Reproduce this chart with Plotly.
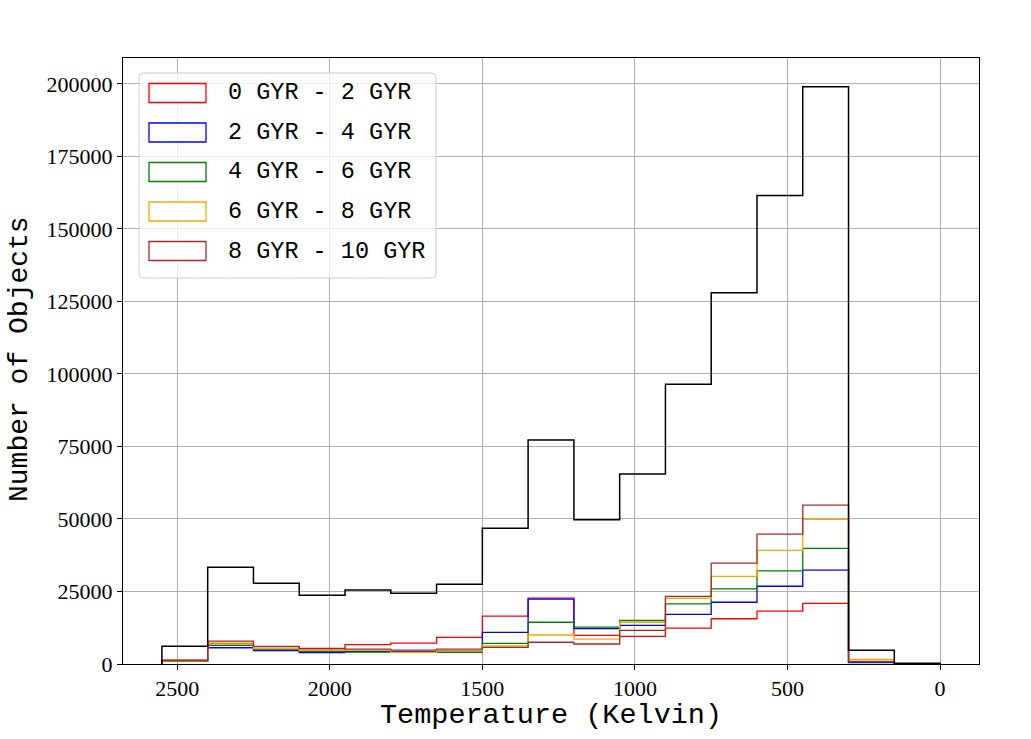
import plotly.graph_objects as go

# bin edges (Kelvin), hottest bin first
edges = [2550, 2400, 2250, 2100, 1950, 1800, 1650, 1500, 1350,
         1200, 1050, 900, 750, 600, 450, 300, 150, 0]

# counts per bin
total = [6100, 33400, 27800, 23700, 25500, 24400, 27500, 46800, 77200,
         49700, 65500, 96500, 128000, 161500, 199000, 4700, 250]
age_0_2 = [1200, 7000, 6000, 5400, 6700, 7200, 9200, 16500, 22700,
           9900, 9500, 12400, 15600, 18200, 20900, 600, 50]
age_2_4 = [1000, 5600, 4600, 3900, 4300, 4300, 4500, 10900, 22400,
           12200, 13300, 17100, 21300, 26800, 32400, 500, 40]
age_4_6 = [1000, 6400, 5100, 4400, 4100, 4000, 4000, 7100, 14400,
           12700, 15000, 20700, 25900, 32100, 39900, 700, 50]
age_6_8 = [1100, 7200, 5400, 4700, 4700, 4000, 4500, 6200, 10000,
           8600, 14400, 22600, 30200, 39200, 49900, 1600, 60]
age_8_10 = [1300, 7900, 6100, 5200, 5100, 4800, 5100, 5700, 7500,
            6900, 11600, 23300, 34800, 44800, 54800, 900, 50]

labels = ["0 GYR - 2 GYR", "2 GYR - 4 GYR", "4 GYR - 6 GYR",
          "6 GYR - 8 GYR", "8 GYR - 10 GYR"]
colors = ["red", "blue", "green", "orange", "brown"]
series = [age_0_2, age_2_4, age_4_6, age_6_8, age_8_10]

W, H = 1031, 739
L, R, T, B = 123, 979, 58, 664   # plot area in pixels


def px(x, y):
    # pixel -> paper coords
    return (x - L) / (R - L), (B - y) / (B - T)


def step(counts):
    # matplotlib 'step' histogram outline
    xs = [edges[0]] + edges
    ys = [0] + counts + [0]
    return xs, ys


fig = go.Figure()
for cnt, col, lab in zip(series, colors, labels):
    xs, ys = step(cnt)
    fig.add_trace(go.Scatter(x=xs, y=ys, mode="lines", line_shape="hv",
                             line=dict(color=col, width=1.3), name=lab,
                             showlegend=False))
xs, ys = step(total)
fig.add_trace(go.Scatter(x=xs, y=ys, mode="lines", line_shape="hv",
                         line=dict(color="black", width=1.5), name="total",
                         showlegend=False))

tickfont = dict(family="Liberation Serif", size=22, color="black")
fig.update_xaxes(range=[2677.5, -127.5], tickvals=[2500, 2000, 1500, 1000, 500, 0],
                 showgrid=True, gridcolor="#b0b0b0", gridwidth=1,
                 showline=True, linecolor="black", linewidth=1, mirror=True,
                 ticks="outside", ticklen=5, tickcolor="black",
                 tickfont=tickfont, zeroline=False)
fig.update_yaxes(range=[0, 208950], tickvals=list(range(0, 200001, 25000)),
                 tickformat="d",
                 showgrid=True, gridcolor="#b0b0b0", gridwidth=1,
                 showline=True, linecolor="black", linewidth=1, mirror=True,
                 ticks="outside", ticklen=5, tickcolor="black",
                 tickfont=tickfont, zeroline=False)

# legend drawn by hand so the keys are rectangles like matplotlib's
shapes = []
annots = []
bx0, by0, bx1, by1 = 139, 73, 436, 278
rr = 4
a = px
path = "M {} {} L {} {} Q {} {} {} {} L {} {} Q {} {} {} {} L {} {} Q {} {} {} {} L {} {} Q {} {} {} {} Z".format(
    *a(bx0 + rr, by0), *a(bx1 - rr, by0), *a(bx1, by0), *a(bx1, by0 + rr),
    *a(bx1, by1 - rr), *a(bx1, by1), *a(bx1 - rr, by1),
    *a(bx0 + rr, by1), *a(bx0, by1), *a(bx0, by1 - rr),
    *a(bx0, by0 + rr), *a(bx0, by0), *a(bx0 + rr, by0))
shapes.append(dict(type="path", path=path, xref="paper", yref="paper",
                   fillcolor="rgba(255,255,255,0.8)",
                   line=dict(color="#cccccc", width=1), layer="above"))
for i, (lab, col) in enumerate(zip(labels, colors)):
    cy = 93 + i * 39.5
    x0, y0 = px(149, cy - 9.5)
    x1, y1 = px(206, cy + 9.5)
    shapes.append(dict(type="rect", xref="paper", yref="paper",
                       x0=x0, x1=x1, y0=y0, y1=y1, fillcolor="white",
                       line=dict(color=col, width=1.3), layer="above"))
    tx, ty = px(226, cy)
    annots.append(dict(text=lab, x=tx, y=ty, xref="paper", yref="paper",
                       xanchor="left", yanchor="middle", showarrow=False,
                       font=dict(family="Liberation Mono", size=23.5,
                                 color="black")))

tx, ty = px(551, 715)
annots.append(dict(text="Temperature (Kelvin)", x=tx, y=ty, xref="paper",
                   yref="paper", xanchor="center", yanchor="middle",
                   showarrow=False,
                   font=dict(family="Liberation Mono", size=28.5, color="black")))
tx, ty = px(19, 359)
annots.append(dict(text="Number of Objects", x=tx, y=ty, xref="paper",
                   yref="paper", xanchor="center", yanchor="middle",
                   textangle=-90, showarrow=False,
                   font=dict(family="Liberation Mono", size=28, color="black")))

fig.update_layout(width=W, height=H,
                  margin=dict(l=L, r=W - R, t=T, b=H - B, pad=0),
                  plot_bgcolor="white", paper_bgcolor="white",
                  shapes=shapes, annotations=annots, showlegend=False)

# drop the browser's default 8px body margin so the figure fills the window
fig.write_html("out.html", config={"displayModeBar": False},
               post_script="document.body.style.margin='0';"
                           "document.body.style.overflow='hidden';")
